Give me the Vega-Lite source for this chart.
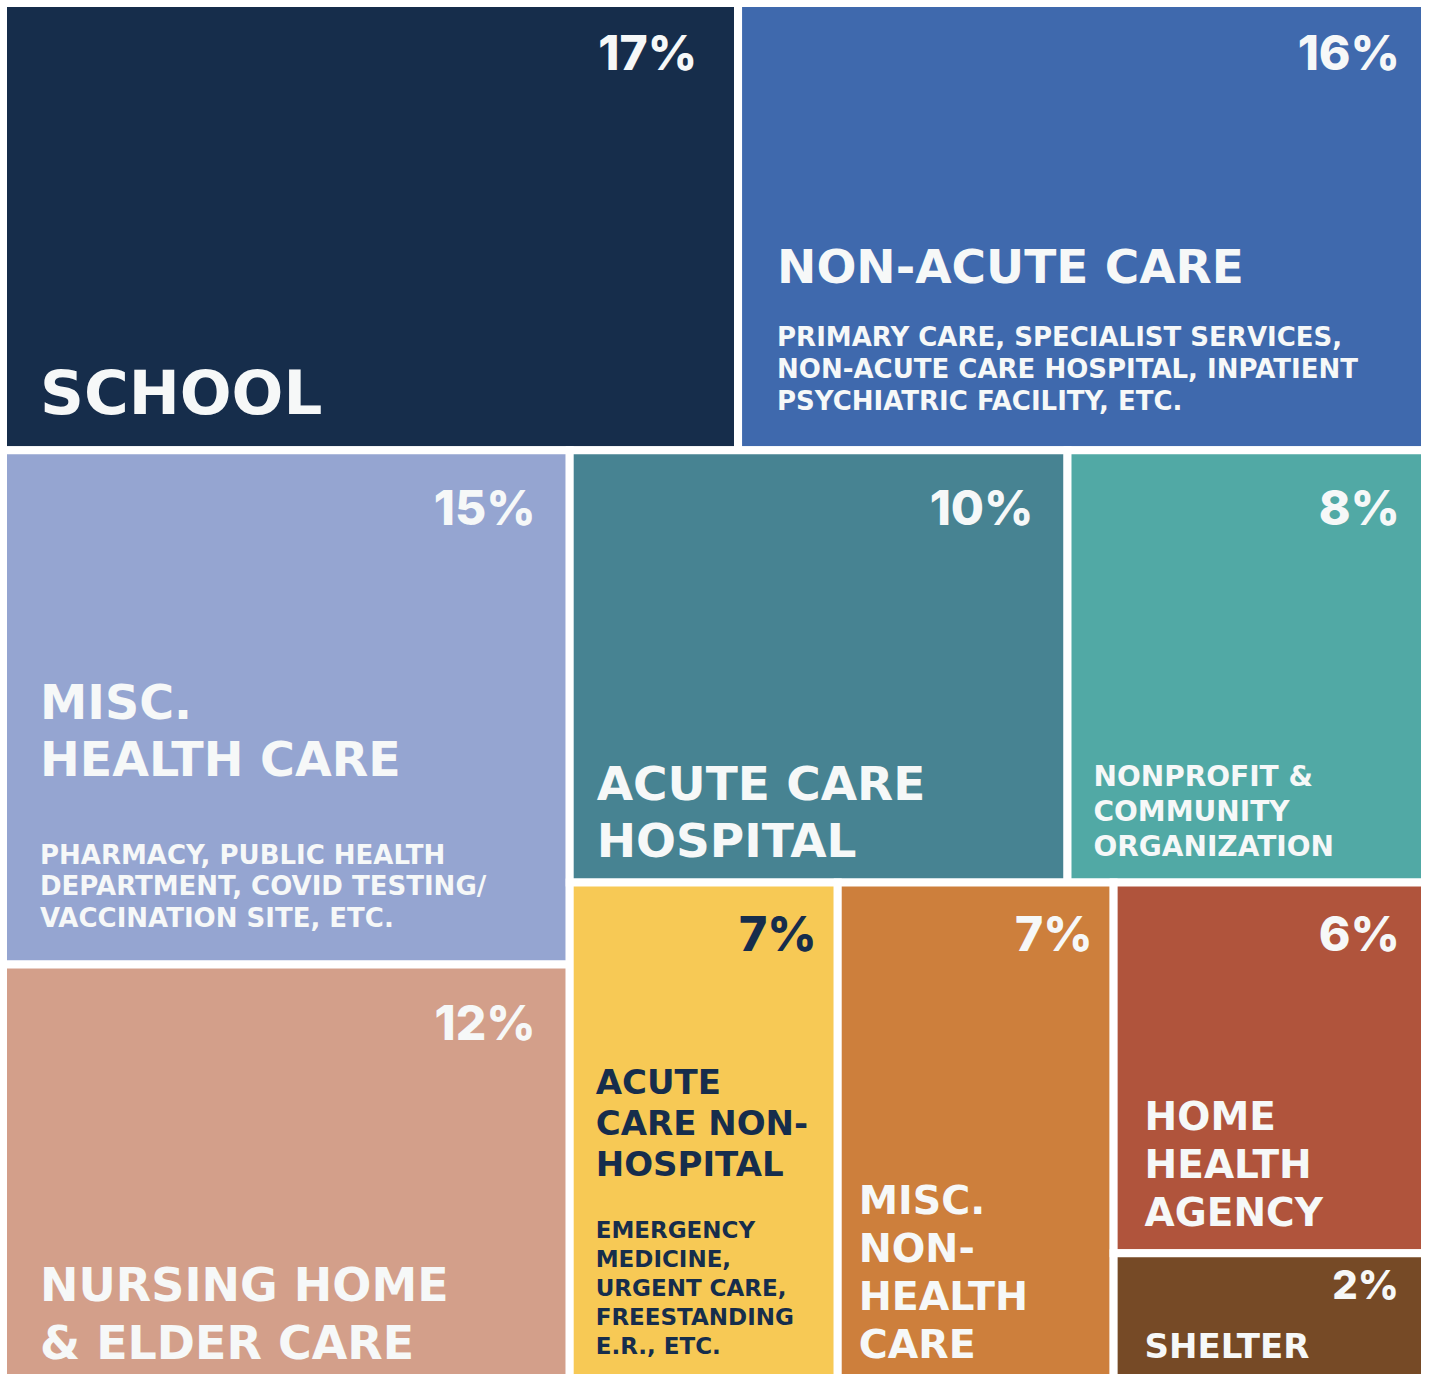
{
  "$schema": "https://vega.github.io/schema/vega-lite/v6.json",
  "width": 1422,
  "height": 1371,
  "autosize": {"type": "none"},
  "padding": {"left": 3, "top": 3, "right": 4, "bottom": 0},
  "background": "white",
  "config": {"view": {"stroke": null}, "text": {"font": "Inter", "fontWeight": 800}},
  "data": {
    "values": [
      {"name": "School", "share": 0.168, "pct": "17%", "ord": 1, "n1": "top", "n2": "School", "n3": "School", "n4": "School", "n5": "School", "title": "SCHOOL", "sub": ""},
      {"name": "NonAcute", "share": 0.157, "pct": "16%", "ord": 2, "n1": "top", "n2": "NonAcute", "n3": "NonAcute", "n4": "NonAcute", "n5": "NonAcute", "title": "NON-ACUTE CARE", "sub": "PRIMARY CARE, SPECIALIST SERVICES,\nNON-ACUTE CARE HOSPITAL, INPATIENT\nPSYCHIATRIC FACILITY, ETC."},
      {"name": "MiscHealth", "share": 0.149, "pct": "15%", "ord": 3, "n1": "bottom", "n2": "left", "n3": "MiscHealth", "n4": "MiscHealth", "n5": "MiscHealth", "title": "MISC.\nHEALTH CARE", "sub": "PHARMACY, PUBLIC HEALTH\nDEPARTMENT, COVID TESTING/\nVACCINATION SITE, ETC."},
      {"name": "Nursing", "share": 0.120, "pct": "12%", "ord": 4, "n1": "bottom", "n2": "left", "n3": "Nursing", "n4": "Nursing", "n5": "Nursing", "title": "NURSING HOME\n& ELDER CARE", "sub": ""},
      {"name": "AcuteHosp", "share": 0.110, "pct": "10%", "ord": 5, "n1": "bottom", "n2": "right", "n3": "rtop", "n4": "AcuteHosp", "n5": "AcuteHosp", "title": "ACUTE CARE\nHOSPITAL", "sub": ""},
      {"name": "Nonprofit", "share": 0.079, "pct": "8%", "ord": 6, "n1": "bottom", "n2": "right", "n3": "rtop", "n4": "Nonprofit", "n5": "Nonprofit", "title": "NONPROFIT &\nCOMMUNITY\nORGANIZATION", "sub": ""},
      {"name": "AcuteNon", "share": 0.068, "pct": "7%", "ord": 7, "n1": "bottom", "n2": "right", "n3": "rbot", "n4": "AcuteNon", "n5": "AcuteNon", "title": "ACUTE\nCARE NON-\nHOSPITAL", "sub": "EMERGENCY\nMEDICINE,\nURGENT CARE,\nFREESTANDING\nE.R., ETC."},
      {"name": "MiscNon", "share": 0.070, "pct": "7%", "ord": 8, "n1": "bottom", "n2": "right", "n3": "rbot", "n4": "MiscNon", "n5": "MiscNon", "title": "MISC.\nNON-\nHEALTH\nCARE", "sub": ""},
      {"name": "Home", "share": 0.059, "pct": "6%", "ord": 9, "n1": "bottom", "n2": "right", "n3": "rbot", "n4": "HomeShelter", "n5": "Home", "title": "HOME\nHEALTH\nAGENCY", "sub": ""},
      {"name": "Shelter", "share": 0.020, "pct": "2%", "ord": 10, "n1": "bottom", "n2": "right", "n3": "rbot", "n4": "HomeShelter", "n5": "Shelter", "title": "SHELTER", "sub": ""}
    ]
  },
  "transform": [
    {"stack": "share", "groupby": [], "sort": [{"field": "ord", "order": "ascending"}], "offset": "normalize", "as": ["s1a", "s1b"]},
    {"joinaggregate": [{"op": "min", "field": "s1a", "as": "y0"}, {"op": "max", "field": "s1b", "as": "y1"}], "groupby": ["n1"]},
    {"stack": "share", "groupby": ["n1"], "sort": [{"field": "ord", "order": "ascending"}], "offset": "normalize", "as": ["s2a", "s2b"]},
    {"joinaggregate": [{"op": "min", "field": "s2a", "as": "x0"}, {"op": "max", "field": "s2b", "as": "x1"}], "groupby": ["n1", "n2"]},
    {"stack": "share", "groupby": ["n1", "n2"], "sort": [{"field": "ord", "order": "ascending"}], "offset": "normalize", "as": ["s3a", "s3b"]},
    {"joinaggregate": [{"op": "min", "field": "s3a", "as": "f3a"}, {"op": "max", "field": "s3b", "as": "f3b"}], "groupby": ["n1", "n2", "n3"]},
    {"calculate": "datum.y0 + datum.f3a * (datum.y1 - datum.y0)", "as": "ya"},
    {"calculate": "datum.y0 + datum.f3b * (datum.y1 - datum.y0)", "as": "yb"},
    {"stack": "share", "groupby": ["n1", "n2", "n3"], "sort": [{"field": "ord", "order": "ascending"}], "offset": "normalize", "as": ["s4a", "s4b"]},
    {"joinaggregate": [{"op": "min", "field": "s4a", "as": "f4a"}, {"op": "max", "field": "s4b", "as": "f4b"}], "groupby": ["n1", "n2", "n3", "n4"]},
    {"calculate": "datum.x0 + datum.f4a * (datum.x1 - datum.x0)", "as": "xa"},
    {"calculate": "datum.x0 + datum.f4b * (datum.x1 - datum.x0)", "as": "xb"},
    {"stack": "share", "groupby": ["n1", "n2", "n3", "n4"], "sort": [{"field": "ord", "order": "ascending"}], "offset": "normalize", "as": ["s5a", "s5b"]},
    {"joinaggregate": [{"op": "min", "field": "s5a", "as": "f5a"}, {"op": "max", "field": "s5b", "as": "f5b"}], "groupby": ["n1", "n2", "n3", "n4", "n5"]},
    {"calculate": "datum.ya + datum.f5a * (datum.yb - datum.ya)", "as": "yc"},
    {"calculate": "datum.ya + datum.f5b * (datum.yb - datum.ya)", "as": "yd"}
  ],
  "encoding": {
    "x": {"field": "xa", "type": "quantitative", "scale": {"domain": [0, 1], "nice": false, "zero": false}, "axis": null},
    "y": {"field": "yd", "type": "quantitative", "scale": {"domain": [0, 0.9965], "reverse": true, "nice": false, "zero": false}, "axis": null}
  },
  "layer": [
    {
      "mark": {"type": "rect", "stroke": "white", "strokeWidth": 8, "clip": true},
      "encoding": {
        "x2": {"field": "xb"},
        "y2": {"field": "yc"},
        "color": {
          "field": "name", "type": "nominal", "legend": null,
          "scale": {
            "domain": ["School", "NonAcute", "MiscHealth", "Nursing", "AcuteHosp", "Nonprofit", "AcuteNon", "MiscNon", "Home", "Shelter"],
            "range": ["#162d4b", "#3f69ad", "#95a5d1", "#d39f8a", "#478392", "#51a9a5", "#f7c955", "#cd7f3c", "#b0543c", "#764a26"]
          }
        }
      }
    },
    {
      "transform": [{"filter": {"field": "name", "oneOf": ["School"]}}],
      "mark": {"type": "text", "align": "right", "baseline": "top", "dx": -41, "dy": 29, "fontSize": 48, "fill": "#f6f8f8"},
      "encoding": {"x": {"field": "xb", "type": "quantitative"}, "y": {"field": "yc", "type": "quantitative"}, "text": {"field": "pct"}}
    },
    {
      "transform": [{"filter": {"field": "name", "oneOf": ["NonAcute"]}}],
      "mark": {"type": "text", "align": "right", "baseline": "top", "dx": -25, "dy": 29, "fontSize": 48, "fill": "#f6f8f8"},
      "encoding": {"x": {"field": "xb", "type": "quantitative"}, "y": {"field": "yc", "type": "quantitative"}, "text": {"field": "pct"}}
    },
    {
      "transform": [{"filter": {"field": "name", "oneOf": ["MiscHealth", "Nursing", "AcuteHosp"]}}],
      "mark": {"type": "text", "align": "right", "baseline": "top", "dx": -34, "dy": 37, "fontSize": 48, "fill": "#f6f8f8"},
      "encoding": {"x": {"field": "xb", "type": "quantitative"}, "y": {"field": "yc", "type": "quantitative"}, "text": {"field": "pct"}}
    },
    {
      "transform": [{"filter": {"field": "name", "oneOf": ["Nonprofit"]}}],
      "mark": {"type": "text", "align": "right", "baseline": "top", "dx": -25, "dy": 37, "fontSize": 48, "fill": "#f6f8f8"},
      "encoding": {"x": {"field": "xb", "type": "quantitative"}, "y": {"field": "yc", "type": "quantitative"}, "text": {"field": "pct"}}
    },
    {
      "transform": [{"filter": {"field": "name", "oneOf": ["AcuteNon", "MiscNon"]}}],
      "mark": {"type": "text", "align": "right", "baseline": "top", "dx": -21, "dy": 31, "fontSize": 48},
      "encoding": {
        "x": {"field": "xb", "type": "quantitative"}, "y": {"field": "yc", "type": "quantitative"}, "text": {"field": "pct"},
        "color": {"condition": {"test": "datum.name === 'AcuteNon'", "value": "#162d4c"}, "value": "#f6f8f8"}
      }
    },
    {
      "transform": [{"filter": {"field": "name", "oneOf": ["Home"]}}],
      "mark": {"type": "text", "align": "right", "baseline": "top", "dx": -25, "dy": 31, "fontSize": 48, "fill": "#f6f8f8"},
      "encoding": {"x": {"field": "xb", "type": "quantitative"}, "y": {"field": "yc", "type": "quantitative"}, "text": {"field": "pct"}}
    },
    {
      "transform": [{"filter": {"field": "name", "oneOf": ["Shelter"]}}],
      "mark": {"type": "text", "align": "right", "baseline": "top", "dx": -26, "dy": 14, "fontSize": 40, "fill": "#f6f8f8"},
      "encoding": {"x": {"field": "xb", "type": "quantitative"}, "y": {"field": "yc", "type": "quantitative"}, "text": {"field": "pct"}}
    },
    {
      "transform": [{"filter": {"field": "name", "oneOf": ["School"]}}],
      "mark": {"type": "text", "font": "DejaVu Sans", "fontWeight": "bold", "align": "left", "baseline": "bottom", "lineBreak": "\n", "dx": 37, "dy": -23, "fontSize": 61, "fill": "#f6f8f8"},
      "encoding": {"text": {"field": "title"}}
    },
    {
      "transform": [{"filter": {"field": "name", "oneOf": ["NonAcute"]}}],
      "mark": {"type": "text", "font": "DejaVu Sans", "fontWeight": "bold", "align": "left", "baseline": "bottom", "lineBreak": "\n", "dx": 39, "dy": -157, "fontSize": 47, "fill": "#f6f8f8"},
      "encoding": {"text": {"field": "title"}}
    },
    {
      "transform": [{"filter": {"field": "name", "oneOf": ["NonAcute"]}}],
      "mark": {"type": "text", "font": "DejaVu Sans", "fontWeight": "bold", "align": "left", "baseline": "bottom", "lineBreak": "\n", "lineHeight": 32, "dx": 39, "dy": -99, "fontSize": 26, "fill": "#f6f8f8"},
      "encoding": {"text": {"field": "sub"}}
    },
    {
      "transform": [{"filter": {"field": "name", "oneOf": ["MiscHealth"]}}],
      "mark": {"type": "text", "font": "DejaVu Sans", "fontWeight": "bold", "align": "left", "baseline": "bottom", "lineBreak": "\n", "lineHeight": 57, "dx": 37, "dy": -236, "fontSize": 47.5, "fill": "#f6f8f8"},
      "encoding": {"text": {"field": "title"}}
    },
    {
      "transform": [{"filter": {"field": "name", "oneOf": ["MiscHealth"]}}],
      "mark": {"type": "text", "font": "DejaVu Sans", "fontWeight": "bold", "align": "left", "baseline": "bottom", "lineBreak": "\n", "lineHeight": 31.5, "dx": 37, "dy": -96, "fontSize": 26, "fill": "#f6f8f8"},
      "encoding": {"text": {"field": "sub"}}
    },
    {
      "transform": [{"filter": {"field": "name", "oneOf": ["Nursing"]}}],
      "mark": {"type": "text", "font": "DejaVu Sans", "fontWeight": "bold", "align": "left", "baseline": "bottom", "lineBreak": "\n", "lineHeight": 58, "dx": 37, "dy": -68, "fontSize": 46, "fill": "#f6f8f8"},
      "encoding": {"text": {"field": "title"}}
    },
    {
      "transform": [{"filter": {"field": "name", "oneOf": ["AcuteHosp"]}}],
      "mark": {"type": "text", "font": "DejaVu Sans", "fontWeight": "bold", "align": "left", "baseline": "bottom", "lineBreak": "\n", "lineHeight": 57, "dx": 27, "dy": -72, "fontSize": 47, "fill": "#f6f8f8"},
      "encoding": {"text": {"field": "title"}}
    },
    {
      "transform": [{"filter": {"field": "name", "oneOf": ["Nonprofit"]}}],
      "mark": {"type": "text", "font": "DejaVu Sans", "fontWeight": "bold", "align": "left", "baseline": "bottom", "lineBreak": "\n", "lineHeight": 35, "dx": 26, "dy": -90, "fontSize": 28, "fill": "#f6f8f8"},
      "encoding": {"text": {"field": "title"}}
    },
    {
      "transform": [{"filter": {"field": "name", "oneOf": ["AcuteNon"]}}],
      "mark": {"type": "text", "font": "DejaVu Sans", "fontWeight": "bold", "align": "left", "baseline": "bottom", "lineBreak": "\n", "lineHeight": 41, "dx": 26, "dy": -278, "fontSize": 34, "fill": "#162d4c"},
      "encoding": {"text": {"field": "title"}}
    },
    {
      "transform": [{"filter": {"field": "name", "oneOf": ["AcuteNon"]}}],
      "mark": {"type": "text", "font": "DejaVu Sans", "fontWeight": "bold", "align": "left", "baseline": "bottom", "lineBreak": "\n", "lineHeight": 29, "dx": 26, "dy": -136, "fontSize": 23, "fill": "#162d4c"},
      "encoding": {"text": {"field": "sub"}}
    },
    {
      "transform": [{"filter": {"field": "name", "oneOf": ["MiscNon"]}}],
      "mark": {"type": "text", "font": "DejaVu Sans", "fontWeight": "bold", "align": "left", "baseline": "bottom", "lineBreak": "\n", "lineHeight": 48, "dx": 21, "dy": -157, "fontSize": 39.5, "fill": "#f6f8f8"},
      "encoding": {"text": {"field": "title"}}
    },
    {
      "transform": [{"filter": {"field": "name", "oneOf": ["Home"]}}],
      "mark": {"type": "text", "font": "DejaVu Sans", "fontWeight": "bold", "align": "left", "baseline": "bottom", "lineBreak": "\n", "lineHeight": 48, "dx": 31, "dy": -115, "fontSize": 39, "fill": "#f6f8f8"},
      "encoding": {"text": {"field": "title"}}
    },
    {
      "transform": [{"filter": {"field": "name", "oneOf": ["Shelter"]}}],
      "mark": {"type": "text", "font": "DejaVu Sans", "fontWeight": "bold", "align": "left", "baseline": "bottom", "lineBreak": "\n", "dx": 31, "dy": -14, "fontSize": 34, "fill": "#f6f8f8"},
      "encoding": {"text": {"field": "title"}}
    }
  ]
}
